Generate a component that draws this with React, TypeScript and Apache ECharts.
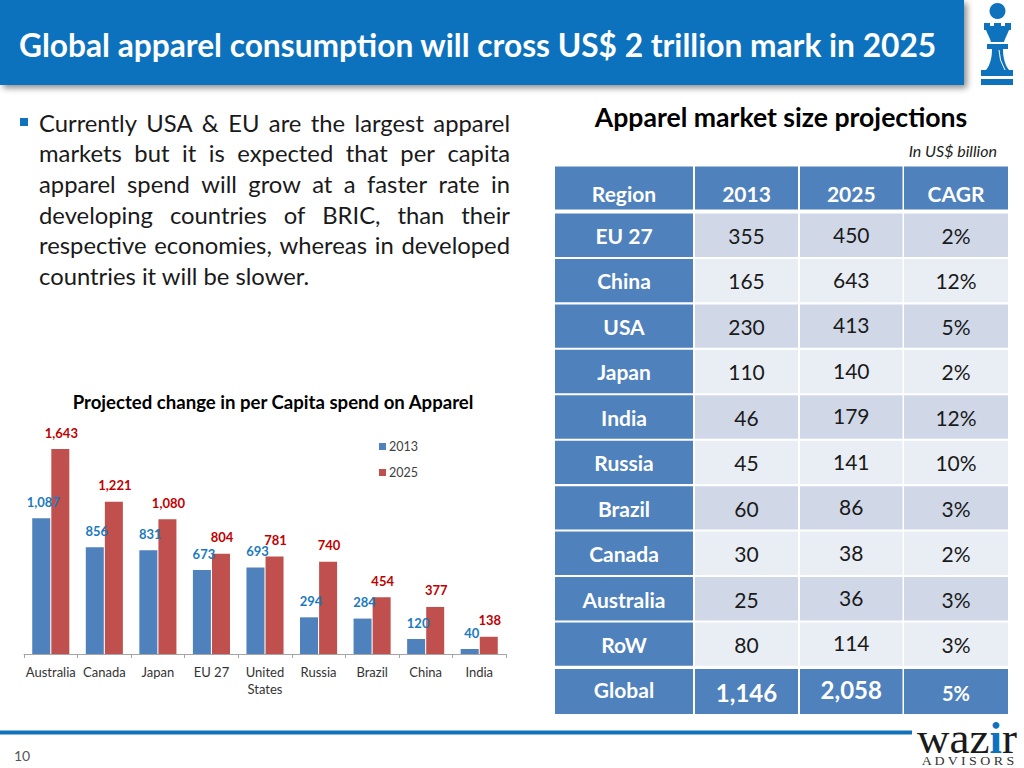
import React, { useEffect, useRef } from "react";
import * as echarts from "echarts";

const categories = ["Australia", "Canada", "Japan", "EU 27", "United\nStates", "Russia", "Brazil", "China", "India"];
const spend2013 = [1087, 856, 831, 673, 693, 294, 284, 120, 40];
const spend2025 = [1643, 1221, 1080, 804, 781, 740, 454, 377, 138];

const tableHeader = ["Region", "2013", "2025", "CAGR"];
const regions = ["EU 27", "China", "USA", "Japan", "India", "Russia", "Brazil", "Canada", "Australia", "RoW"];
const market2013 = ["355", "165", "230", "110", "46", "45", "60", "30", "25", "80"];
const market2025 = ["450", "643", "413", "140", "179", "141", "86", "38", "36", "114"];
const cagr = ["2%", "12%", "5%", "2%", "12%", "10%", "3%", "2%", "3%", "3%"];
const globalRow = ["Global", "1,146", "2,058", "5%"];

const bulletLines = [
  "Currently USA & EU are the largest apparel",
  "markets but it is expected that per capita",
  "apparel spend will grow at a faster rate in",
  "developing countries of BRIC, than their",
  "respective economies, whereas in developed",
];
const bulletLast = "countries it will be slower.";

const FONT = "Lato";
const BLUE = "#4f81bd";
const RED = "#c0504d";
const HEAD = "#0e72bd";

const ROOK =
  "M984 23 L990 23 L990 26 L994 26 L994 23 L1001 23 L1001 26 L1005 26 L1005 23 L1011 23 L1011 30 L1009 30 C1007 35 1005 38 1004 42 L991 42 C990 38 988 35 986 30 L984 30 Z " +
  "M987 44 L1008 44 L1008 49 L1003 49 C1003 58 1005 65 1009 70 L1013 70 L1013 76 L981 76 L981 70 L986 70 C990 65 992 58 992 49 L987 49 Z " +
  "M981 79 L1013 79 L1013 85 L981 85 Z";
echarts.graphic.registerShape("rook", echarts.graphic.extendPath(ROOK, {}));

const textWidth = (() => {
  const ctx = document.createElement("canvas").getContext("2d") as CanvasRenderingContext2D;
  return (s: string, font: string) => {
    ctx.font = font;
    return ctx.measureText(s).width;
  };
})();

function justified(line: string, y: number, x0: number, x1: number, size: number) {
  const font = `${size}px ${FONT}`;
  const words = line.split(" ");
  const total = words.reduce((a, w) => a + textWidth(w, font), 0);
  const gap = (x1 - x0 - total) / (words.length - 1);
  let x = x0;
  return words.map((w) => {
    const el = {
      type: "text",
      x,
      y,
      style: { text: w, font, fill: "#1a1a1a", textVerticalAlign: "middle" },
    };
    x += textWidth(w, font) + gap;
    return el;
  });
}

const cell = (x: number, y: number, w: number, h: number, fill: string) => ({
  type: "rect",
  shape: { x, y, width: w, height: h },
  style: { fill },
});
const label = (
  text: string,
  x: number,
  y: number,
  font: string,
  fill: string,
  align: string = "center"
) => ({
  type: "text",
  x,
  y,
  style: { text, font, fill, textAlign: align, textVerticalAlign: "middle" },
});

function buildGraphics() {
  const g: any[] = [];
  g.push({
    type: "rect",
    shape: { x: 0, y: 0, width: 964, height: 85 },
    style: { fill: HEAD, shadowBlur: 6, shadowOffsetX: 3, shadowOffsetY: 3, shadowColor: "rgba(0,0,0,0.45)" },
  });
  g.push(label("Global apparel consumption will cross US$ 2 trillion mark in 2025", 19, 45, `bold 31.7px ${FONT}`, "#ffffff", "left"));
  g.push({ type: "circle", shape: { cx: 997.5, cy: 11, r: 8 }, style: { fill: HEAD } });
  g.push({ type: "rook", x: 0, y: 0, style: { fill: HEAD } });
  g.push({
    type: "bezierCurve",
    shape: { x1: 999, y1: 50, x2: 1005, y2: 70, cpx1: 999, cpy1: 60 },
    style: { stroke: "#ffffff", lineWidth: 1, fill: "none" },
  });

  g.push({ type: "rect", shape: { x: 20, y: 118, width: 8, height: 8 }, style: { fill: HEAD } });
  bulletLines.forEach((l, i) => g.push(...justified(l, 122.5 + i * 30.7, 39, 510, 23.8)));
  g.push(label(bulletLast, 39, 276, `23.8px ${FONT}`, "#1a1a1a", "left"));

  g.push(label("Apparel market size projections", 781, 116.5, `bold 26.6px ${FONT}`, "#000000"));
  g.push(label("In US$ billion", 997, 150, `italic 16px ${FONT}`, "#1a1a1a", "right"));

  const cols = [
    [555, 138],
    [695, 103],
    [800, 102.5],
    [904, 104],
  ];
  const center = (c: number) => cols[c][0] + cols[c][1] / 2;
  cols.forEach(([x, w], c) => {
    g.push(cell(x, 166.5, w, 43, BLUE));
    g.push(label(tableHeader[c], center(c), 193.5, `bold 21px ${FONT}`, "#ffffff"));
    g.push(cell(x, 669, w, 45, BLUE));
  });
  regions.forEach((r, i) => {
    const cy = 235.5 + i * 45.44;
    const fill = i % 2 === 0 ? "#d0d8e8" : "#e9edf4";
    cols.forEach(([x, w], c) => g.push(cell(x, cy - 22, w, 43.4, c === 0 ? BLUE : fill)));
    g.push(label(r, center(0), cy, `bold 21px ${FONT}`, "#ffffff"));
    g.push(label(market2013[i], center(1), cy, `21px ${FONT}`, "#1a1a1a"));
    g.push(label(market2025[i], center(2), cy - 1.5, `21px ${FONT}`, "#1a1a1a"));
    g.push(label(cagr[i], center(3), cy, `21px ${FONT}`, "#1a1a1a"));
  });
  g.push(label(globalRow[0], center(0), 689.5, `bold 21px ${FONT}`, "#ffffff"));
  g.push(label(globalRow[1], center(1), 692.5, `bold 24px ${FONT}`, "#ffffff"));
  g.push(label(globalRow[2], center(2), 689.5, `bold 24px ${FONT}`, "#ffffff"));
  g.push(label(globalRow[3], center(3), 692.5, `bold 20px ${FONT}`, "#ffffff"));

  g.push({ type: "rect", shape: { x: 0, y: 730.5, width: 912, height: 4 }, style: { fill: HEAD } });
  g.push(label("10", 14, 755, `14px ${FONT}`, "#555555", "left"));
  g.push({
    type: "text",
    x: 917,
    y: 738,
    style: {
      text: "{a|waz}{b|i}{a|r}",
      textVerticalAlign: "middle",
      rich: {
        a: { font: `45px "Liberation Serif"`, fill: "#1a1a1a" },
        b: { font: `bold 45px "Liberation Serif"`, fill: HEAD },
      },
    },
  });
  g.push({
    type: "text",
    x: 968,
    y: 761,
    scaleX: 1.16,
    style: {
      text: "A D V I S O R S",
      font: `12px "Liberation Serif"`,
      fill: "#333333",
      textAlign: "center",
      textVerticalAlign: "middle",
    },
  });
  return g;
}

export default function App() {
  const ref = useRef<HTMLDivElement>(null);
  useEffect(() => {
    const chart = echarts.init(ref.current as HTMLDivElement, undefined, { renderer: "svg" });
    const yMax = 1800;
    const pxPerUnit = 205 / 1643;
    const bottom = 768 - 654;
    const height = yMax * pxPerUnit;
    chart.setOption({
      animation: false,
      backgroundColor: "#ffffff",
      textStyle: { fontFamily: FONT },
      title: {
        text: "Projected change in per Capita spend on Apparel",
        left: 268,
        top: 387,
        textAlign: "center",
        textStyle: { fontFamily: FONT, fontSize: 18.6, fontWeight: "bold", color: "#000000" },
      },
      legend: {
        orient: "vertical",
        left: 374,
        top: 434,
        itemWidth: 7,
        itemHeight: 7,
        itemGap: 11,
        icon: "rect",
        textStyle: { fontFamily: FONT, fontSize: 12.5, color: "#404040", padding: [0, 0, 0, -2], lineHeight: 15 },
        data: ["2013", "2025"],
      },
      grid: { left: 24, width: 482, bottom, height, containLabel: false },
      xAxis: {
        type: "category",
        data: categories,
        axisLine: { lineStyle: { color: "#a6a6a6", width: 1 } },
        axisTick: { show: true, length: 4, alignWithLabel: false, lineStyle: { color: "#a6a6a6" } },
        axisLabel: { interval: 0, fontFamily: FONT, fontSize: 13, color: "#333333", margin: 9, lineHeight: 17 },
      },
      yAxis: { type: "value", min: 0, max: yMax, show: false, splitLine: { show: false } },
      series: [
        {
          name: "2013",
          type: "bar",
          data: spend2013,
          barWidth: 18,
          barGap: "6%",
          itemStyle: { color: BLUE },
          label: {
            show: true,
            position: "top",
            distance: 10,
            offset: [2, 0],
            formatter: (p: any) => p.value.toLocaleString("en-US"),
            fontFamily: FONT,
            fontSize: 13,
            fontWeight: "bold",
            color: "#1a7abf",
          },
        },
        {
          name: "2025",
          type: "bar",
          data: spend2025,
          barWidth: 18,
          itemStyle: { color: RED },
          label: {
            show: true,
            position: "top",
            distance: 10,
            offset: [1, 0],
            formatter: (p: any) => p.value.toLocaleString("en-US"),
            fontFamily: FONT,
            fontSize: 13,
            fontWeight: "bold",
            color: "#c00000",
          },
        },
      ],
      graphic: { elements: buildGraphics() },
    });
    return () => chart.dispose();
  }, []);
  return <div ref={ref} style={{ position: "absolute", left: 0, top: 0, width: 1024, height: 768 }} />;
}
